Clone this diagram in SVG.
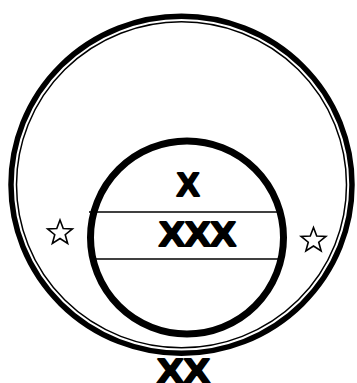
<svg xmlns="http://www.w3.org/2000/svg" width="357" height="383" viewBox="0 0 357 383">
<defs>
<style>
.ring{fill:none;stroke:#000}
.lbl{font-family:"Liberation Sans",Arial,sans-serif;font-weight:700;fill:#000;stroke:#000;stroke-width:2;stroke-linejoin:round;text-anchor:middle}
.star{fill:#fff;stroke:#000;stroke-width:1.6;stroke-linejoin:miter}
.bar{stroke:#000;stroke-width:1.6}
</style>
<path id="starShape" d="M0,-13 L3.23,-4.45 L12.36,-4.02 L5.23,1.70 L7.64,10.52 L0,5.5 L-7.64,10.52 L-5.23,1.70 L-12.36,-4.02 L-3.23,-4.45 Z"/>
</defs>
<rect width="357" height="383" fill="#fff"/>
<g id="outer">
<ellipse class="ring" cx="181.5" cy="184.8" rx="170.5" ry="168.5" stroke-width="5.5"/>
<ellipse class="ring" cx="181.5" cy="184.8" rx="165" ry="163" stroke-width="1.5"/>
</g>
<g id="inner">
<circle class="ring" cx="187" cy="237.5" r="96.5" stroke-width="7"/>
<line class="bar" x1="89" y1="212" x2="277" y2="212"/>
<line class="bar" x1="95" y1="259" x2="278" y2="259"/>
</g>
<g id="label-x"><text class="lbl" font-weight="700" x="188" y="195.5" font-size="34">X</text></g>
<g id="label-xxx"><text class="lbl" font-weight="700" x="197.5" y="246" font-size="35" textLength="77" lengthAdjust="spacingAndGlyphs">XXX</text></g>
<g id="label-xx"><text class="lbl" font-weight="700" x="183.5" y="383" font-size="35" textLength="53" lengthAdjust="spacingAndGlyphs">XX</text></g>
<g id="star-left"><use href="#starShape" class="star" transform="translate(60,233)"/></g>
<g id="star-right"><use href="#starShape" class="star" transform="translate(313.5,240.5)"/></g>
<g id="connectors"/>
</svg>
